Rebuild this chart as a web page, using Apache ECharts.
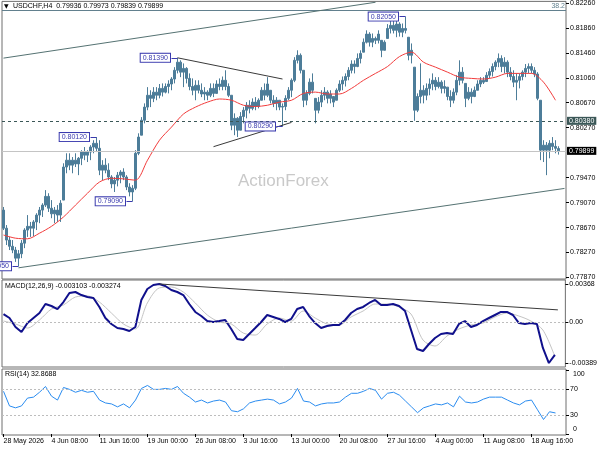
<!DOCTYPE html>
<html>
<head>
<meta charset="utf-8">
<script src="https://cdn.jsdelivr.net/npm/echarts@6/dist/echarts.min.js"></script>
<style>
  html, body { margin: 0; padding: 0; background: #fff; }
  #chart { width: 600px; height: 450px; }
</style>
</head>
<body>
<div id="chart"></div>
<script>
/**
 * USDCHF H4 — price bars with MA, MACD and RSI panes (MetaTrader style).
 */

// time axis: one slot per bar, labels every 16 slots
const slotCount = 188;
const labelStep = 16;
const xLabels = ['28 May 2026', '4 Jun 08:00', '11 Jun 16:00', '19 Jun 00:00', '26 Jun 08:00', '3 Jul 16:00',
  '13 Jul 00:00', '20 Jul 08:00', '27 Jul 16:00', '4 Aug 00:00', '11 Aug 08:00', '18 Aug 16:00'];

const barOpen = [
  0.7895,0.7866,0.7847,0.7837,0.7831,0.7818,0.7825,0.7842,0.7863,0.7869,
  0.7866,0.7876,0.7887,0.7895,0.7903,0.7917,0.7898,0.7889,0.7895,0.7887,
  0.7911,0.7964,0.7975,0.7967,0.7975,0.7969,0.7978,0.7988,0.7983,0.7988,
  0.7996,0.8002,0.7994,0.7959,0.7967,0.7959,0.7948,0.7937,0.7943,0.7951,
  0.7956,0.7948,0.7932,0.7924,0.7930,0.7986,0.8015,0.8039,0.8060,0.8079,
  0.8074,0.8084,0.8079,0.8090,0.8084,0.8093,0.8097,0.8105,0.8119,0.8132,
  0.8116,0.8122,0.8106,0.8093,0.8087,0.8095,0.8087,0.8081,0.8084,0.8079,
  0.8090,0.8082,0.8097,0.8093,0.8103,0.8093,0.8079,0.8031,0.8042,0.8023,
  0.8045,0.8055,0.8063,0.8058,0.8068,0.8061,0.8071,0.8087,0.8079,0.8087,
  0.8071,0.8066,0.8071,0.8060,0.8061,0.8074,0.8087,0.8103,0.8135,0.8143,
  0.8119,0.8071,0.8082,0.8100,0.8074,0.8055,0.8068,0.8079,0.8084,0.8074,
  0.8077,0.8071,0.8087,0.8097,0.8103,0.8109,0.8119,0.8129,0.8125,0.8138,
  0.8148,0.8164,0.8177,0.8164,0.8170,0.8167,0.8167,0.8151,0.8170,0.8186,
  0.8191,0.8183,0.8193,0.8180,0.8186,0.8172,0.8143,0.8124,0.8055,0.8077,
  0.8087,0.8079,0.8090,0.8097,0.8103,0.8093,0.8100,0.8090,0.8092,0.8077,
  0.8071,0.8084,0.8103,0.8116,0.8098,0.8074,0.8084,0.8077,0.8087,0.8097,
  0.8103,0.8101,0.8111,0.8117,0.8125,0.8132,0.8138,0.8125,0.8132,0.8116,
  0.8109,0.8100,0.8103,0.8109,0.8116,0.8122,0.8125,0.8119,0.8113,0.8071,
  0.7991,0.7999,0.7991,0.8002,0.7997,0.79936
];
const barHigh = [
  0.7900,0.7871,0.7852,0.7847,0.7836,0.7831,0.7847,0.7866,0.7887,0.7876,
  0.7879,0.7890,0.7900,0.7906,0.7927,0.7922,0.7911,0.7900,0.7903,0.7911,
  0.7970,0.7986,0.7986,0.7980,0.7986,0.7980,0.7991,0.7996,0.7991,0.7999,
  0.8007,0.8012,0.8007,0.7975,0.7978,0.7970,0.7951,0.7948,0.7956,0.7959,
  0.7962,0.7951,0.7938,0.7935,0.7991,0.8018,0.8044,0.8066,0.8092,0.8087,
  0.8092,0.8092,0.8097,0.8098,0.8098,0.8103,0.8108,0.8124,0.8139,0.8135,
  0.8130,0.8124,0.8114,0.8106,0.8103,0.8103,0.8098,0.8092,0.8087,0.8098,
  0.8098,0.8103,0.8106,0.8109,0.8119,0.8098,0.8079,0.8050,0.8044,0.8052,
  0.8060,0.8068,0.8071,0.8074,0.8076,0.8074,0.8092,0.8098,0.8108,0.8087,
  0.8079,0.8076,0.8071,0.8066,0.8079,0.8092,0.8106,0.8140,0.8151,0.8146,
  0.8119,0.8087,0.8106,0.8114,0.8074,0.8076,0.8087,0.8092,0.8087,0.8087,
  0.8077,0.8090,0.8103,0.8109,0.8114,0.8124,0.8135,0.8135,0.8146,0.8151,
  0.8170,0.8183,0.8180,0.8178,0.8173,0.8183,0.8167,0.8167,0.8193,0.8199,
  0.8199,0.8199,0.8196,0.8194,0.8205,0.8172,0.8162,0.8124,0.8082,0.8130,
  0.8095,0.8098,0.8106,0.8114,0.8108,0.8108,0.8103,0.8103,0.8092,0.8087,
  0.8090,0.8111,0.8135,0.8124,0.8098,0.8092,0.8090,0.8093,0.8103,0.8108,
  0.8108,0.8116,0.8122,0.8130,0.8135,0.8146,0.8143,0.8140,0.8135,0.8124,
  0.8119,0.8114,0.8114,0.8119,0.8129,0.8130,0.8130,0.8124,0.8116,0.8071,
  0.8007,0.8004,0.8007,0.8012,0.8007,0.79973
];
const barLow = [
  0.7863,0.7839,0.7831,0.7826,0.7812,0.7805,0.7818,0.7834,0.7852,0.7852,
  0.7853,0.7863,0.7874,0.7884,0.7900,0.7892,0.7882,0.7874,0.7876,0.7876,
  0.7911,0.7954,0.7959,0.7954,0.7964,0.7951,0.7967,0.7975,0.7972,0.7975,
  0.7986,0.7988,0.7951,0.7943,0.7954,0.7943,0.7930,0.7924,0.7933,0.7938,
  0.7943,0.7927,0.7917,0.7909,0.7927,0.7983,0.8015,0.8034,0.8055,0.8060,
  0.8068,0.8071,0.8074,0.8077,0.8082,0.8082,0.8087,0.8098,0.8114,0.8108,
  0.8092,0.8098,0.8087,0.8079,0.8071,0.8082,0.8076,0.8071,0.8071,0.8076,
  0.8076,0.8082,0.8087,0.8087,0.8087,0.8076,0.8023,0.8015,0.8012,0.8023,
  0.8034,0.8042,0.8050,0.8055,0.8055,0.8058,0.8071,0.8071,0.8076,0.8066,
  0.8060,0.8055,0.8055,0.8029,0.8055,0.8071,0.8076,0.8100,0.8130,0.8114,
  0.8060,0.8063,0.8079,0.8082,0.8034,0.8050,0.8060,0.8071,0.8066,0.8066,
  0.8060,0.8071,0.8084,0.8087,0.8093,0.8103,0.8114,0.8114,0.8124,0.8130,
  0.8148,0.8162,0.8157,0.8156,0.8161,0.8162,0.8140,0.8151,0.8170,0.8178,
  0.8178,0.8172,0.8173,0.8172,0.8178,0.8135,0.8130,0.8038,0.8052,0.8066,
  0.8066,0.8071,0.8079,0.8087,0.8087,0.8090,0.8082,0.8082,0.8071,0.8060,
  0.8066,0.8079,0.8095,0.8098,0.8060,0.8071,0.8066,0.8076,0.8087,0.8092,
  0.8097,0.8101,0.8106,0.8109,0.8119,0.8124,0.8116,0.8114,0.8108,0.8103,
  0.8092,0.8071,0.8090,0.8103,0.8108,0.8114,0.8114,0.8108,0.8071,0.7975,
  0.7972,0.7951,0.7978,0.7991,0.7986,0.79839
];
const barClose = [
  0.7866,0.7847,0.7837,0.7831,0.7818,0.7825,0.7842,0.7863,0.7869,0.7866,
  0.7876,0.7887,0.7895,0.7903,0.7917,0.7898,0.7889,0.7895,0.7887,0.7906,
  0.7964,0.7975,0.7967,0.7975,0.7969,0.7978,0.7988,0.7983,0.7988,0.7996,
  0.8002,0.7994,0.7959,0.7967,0.7959,0.7948,0.7937,0.7943,0.7951,0.7956,
  0.7948,0.7932,0.7924,0.7930,0.7986,0.8012,0.8039,0.8060,0.8079,0.8074,
  0.8084,0.8079,0.8090,0.8084,0.8093,0.8097,0.8105,0.8119,0.8132,0.8116,
  0.8122,0.8106,0.8093,0.8087,0.8095,0.8087,0.8081,0.8084,0.8079,0.8090,
  0.8082,0.8097,0.8093,0.8103,0.8093,0.8079,0.8031,0.8042,0.8023,0.8045,
  0.8055,0.8063,0.8058,0.8068,0.8061,0.8071,0.8087,0.8079,0.8097,0.8071,
  0.8066,0.8071,0.8060,0.8061,0.8074,0.8087,0.8103,0.8135,0.8143,0.8119,
  0.8071,0.8082,0.8100,0.8087,0.8055,0.8068,0.8079,0.8084,0.8074,0.8081,
  0.8068,0.8087,0.8097,0.8103,0.8109,0.8119,0.8129,0.8125,0.8138,0.8146,
  0.8164,0.8177,0.8164,0.8170,0.8167,0.8177,0.8151,0.8164,0.8186,0.8191,
  0.8183,0.8193,0.8180,0.8186,0.8183,0.8143,0.8151,0.8055,0.8077,0.8087,
  0.8079,0.8090,0.8097,0.8103,0.8093,0.8100,0.8090,0.8093,0.8077,0.8071,
  0.8084,0.8103,0.8116,0.8103,0.8074,0.8084,0.8077,0.8087,0.8097,0.8103,
  0.8100,0.8111,0.8117,0.8125,0.8132,0.8138,0.8125,0.8132,0.8116,0.8109,
  0.8100,0.8103,0.8109,0.8116,0.8122,0.8125,0.8119,0.8113,0.8074,0.7991,
  0.7999,0.7991,0.8002,0.7997,0.7994,0.79899
];

// moving average read every 4 bars
const maStep = 4;
const maValues = [
  0.7855,0.7850,0.7849,0.7858,0.7869,0.7884,0.7903,0.7922,0.7940,0.7946,
  0.7945,0.7943,0.7975,0.8007,0.8028,0.8049,0.8060,0.8068,0.8073,0.8071,
  0.8063,0.8061,0.8063,0.8068,0.8071,0.8082,0.8084,0.8081,0.8081,0.8090,
  0.8103,0.8114,0.8125,0.8141,0.8148,0.8132,0.8124,0.8116,0.8108,0.8106,
  0.8105,0.8108,0.8114,0.8114,0.8114,0.8100,0.8071
];

// MACD main read every 2 bars, signal every 4 bars
const macdStep = 2;
const macdMain = [
  0.00080,0.00042,-0.00044,-0.00092,-0.00006,0.00042,0.00090,0.00176,0.00157,0.00128,
  0.00195,0.00282,0.00291,0.00262,0.00243,0.00234,0.00148,0.00042,-0.00015,-0.00054,
  -0.00063,-0.00082,-0.00044,0.00215,0.00320,0.00358,0.00368,0.00349,0.00310,0.00291,
  0.00262,0.00176,0.00100,0.00061,0.00013,0.00004,0.00013,0.00023,-0.00063,-0.00159,
  -0.00169,-0.00111,-0.00054,0.00004,0.00071,0.00052,0.00033,0.00004,0.00033,0.00128,
  0.00148,0.00061,-0.00006,-0.00054,-0.00034,-0.00025,-0.00025,0.00023,0.00090,0.00128,
  0.00148,0.00186,0.00215,0.00167,0.00167,0.00176,0.00157,0.00109,-0.00073,-0.00255,
  -0.00274,-0.00207,-0.00149,-0.00111,-0.00102,-0.00111,-0.00015,0.00013,-0.00044,-0.00025,
  0.00013,0.00042,0.00071,0.00100,0.00100,0.00071,-0.00006,-0.00015,-0.00006,-0.00015,
  -0.00245,-0.00389,-0.003103
];
const signalStep = 4;
const macdSignal = [
  0.00013,-0.00015,-0.00054,0.00023,0.00128,0.00167,0.00243,0.00253,0.00195,0.00090,
  -0.00015,-0.00063,0.00186,0.00330,0.00339,0.00291,0.00186,0.00071,0.00004,-0.00015,
  -0.00102,-0.00121,-0.00015,0.00042,0.00013,0.00109,0.00042,-0.00015,-0.00025,0.00052,
  0.00109,0.00176,0.00176,0.00148,0.00080,-0.00169,-0.00226,-0.00130,-0.00063,-0.00025,
  -0.00006,0.00052,0.00090,0.00061,0.00013,-0.00073,-0.003274
];

// RSI(14) read every 2 bars
const rsiStep = 2;
const rsiValues = [
  66.7,43.9,40.9,43.9,56.1,57.6,65.2,74.2,59.1,53.0,
  72.7,69.7,65.2,68.2,65.2,66.7,53.0,48.5,47.0,42.4,
  47.0,40.9,53.0,71.2,75.8,69.7,69.7,71.2,69.7,74.2,
  63.6,57.6,50.0,53.0,48.5,51.5,53.0,50.0,36.4,34.8,
  39.4,48.5,51.5,53.0,54.5,53.0,47.0,50.0,56.1,71.2,
  51.5,50.0,43.9,47.0,48.5,48.5,50.0,57.6,63.6,63.6,
  66.7,71.2,68.2,54.5,63.6,65.2,60.6,51.5,42.4,33.3,
  40.9,43.9,47.0,45.5,48.5,42.4,59.1,50.0,48.5,50.0,
  54.5,57.6,57.6,57.6,53.0,48.5,45.5,51.5,53.0,37.9,
  22.7,34.8,32.8688
];

// axis ticks
const priceTicks = [0.8226, 0.8186, 0.8146, 0.8106, 0.8067, 0.8027, 0.7947, 0.7907, 0.7867, 0.7827, 0.7787];
const macdTicks = [0.00368, 0, -0.00389];
const rsiTicks = [100, 70, 30, 0];
const rsiLevels = [70, 30];

// drawn objects on the price pane
const levelPrice = 0.8038;
const fibPrice = 0.8215;
const priceNotes = [
  { idx: 5, side: 'low' }, { idx: 31, side: 'high' }, { idx: 43, side: 'low' },
  { idx: 58, side: 'high' }, { idx: 93, side: 'low' }, { idx: 134, side: 'high' }
];
const channelLines = [
  [[0, 0.81385], [124, 0.8228]],
  [[5, 0.78025], [187, 0.79297]]
];
const triangleLines = [
  [[58, 0.8139], [93, 0.8105]],
  [[70, 0.79966], [96, 0.80355]]
];
const macdTrend = [[52, 0.00368], [185, 0.00120]];

const colors = {
  bar: '#4d7d99',
  ma: '#f23c3c',
  macd: '#10108c',
  signal: '#c4c4c4',
  rsi: '#2a8cf0',
  channel: '#557272',
  trend: '#3a3a3a',
  level: '#3b5757',
  note: '#3a3aae',
  fib: '#62808e',
  border: '#6e6e6e',
  dots: '#bdbdbd'
};
const font = 'Liberation Sans';
const axisText = { color: '#000', fontSize: 7, fontFamily: font };
const fmt5 = v => v.toFixed(5);

const slots = Array.from({ length: slotCount }, (_, i) => i);
const bars = barOpen.map((o, i) => [o, barClose[i], barLow[i], barHigh[i]]);
const toPairs = (vals, step) => vals.map((v, j) => [j * step, v]);
const segment = (pair, color) => [
  { coord: pair[0], lineStyle: { color, width: 1, type: 'solid' } },
  { coord: pair[1] }
];

const last = bars.length - 1;
const headerText = 'USDCHF,H4  ' + [barOpen[last], barHigh[last], barLow[last], barClose[last]].map(fmt5).join(' ');

function xAxisFor(gridIndex, showLabels) {
  const every = i => i % labelStep === 0;
  return {
    type: 'category', gridIndex, data: slots, boundaryGap: true,
    axisLine: { show: false },
    axisTick: { show: showLabels, interval: every, alignWithLabel: true, length: 3, lineStyle: { color: '#000' } },
    axisLabel: {
      show: showLabels, interval: every, align: 'left', margin: 3, ...axisText,
      formatter: (v, i) => xLabels[i / labelStep] || ''
    },
    splitLine: { show: false }
  };
}

function yAxisFor(gridIndex, min, max, ticks, labelValues, formatter) {
  return {
    type: 'value', gridIndex, position: 'right', min, max,
    axisLine: { show: false },
    splitLine: { show: false },
    axisTick: { show: true, customValues: ticks, length: 3, lineStyle: { color: '#000' } },
    axisLabel: { customValues: labelValues, formatter, margin: 4, ...axisText }
  };
}

const gridBase = { left: 2, right: 34, show: true, borderColor: colors.border, borderWidth: 1 };

const noteLabel = {
  show: true, position: 'left', distance: 7,
  color: colors.note, fontSize: 7, fontFamily: font,
  backgroundColor: '#fff', borderColor: colors.note, borderWidth: 1, padding: [1, 2, 0, 2]
};

const sideLabel = (text, bg) => ({
  show: true, position: 'end', distance: 1, formatter: text,
  color: '#fff', backgroundColor: bg, padding: [1, 2, 0, 2], fontSize: 7, fontFamily: font
});

const option = {
  animation: false,
  backgroundColor: '#fff',
  textStyle: { fontFamily: font },
  grid: [
    { ...gridBase, top: 1, height: 278 },
    { ...gridBase, top: 280, height: 87 },
    { ...gridBase, top: 369, height: 66 }
  ],
  xAxis: [xAxisFor(0, false), xAxisFor(1, false), xAxisFor(2, true)],
  yAxis: [
    yAxisFor(0, 0.77846, 0.82294, priceTicks, priceTicks, fmt5),
    yAxisFor(1, -0.00427, 0.00406, macdTicks, macdTicks, v => (v === 0 ? '0.00' : fmt5(v))),
    // the 100 / 0 labels sit inside the pane, drawn below as text
    yAxisFor(2, -1.5, 101.5, rsiTicks, rsiLevels, v => String(v))
  ],
  series: [
    {
      name: 'USDCHF', type: 'candlestick', xAxisIndex: 0, yAxisIndex: 0,
      data: bars, barWidth: 2,
      itemStyle: {
        color: colors.bar, color0: colors.bar,
        borderColor: colors.bar, borderColor0: colors.bar, borderWidth: 1
      },
      markLine: {
        silent: true, symbol: ['none', 'none'], precision: 5,
        label: { show: false },
        data: [
          {
            yAxis: fibPrice, lineStyle: { color: colors.fib, width: 1, type: 'solid' },
            label: { show: true, formatter: '38.2', position: 'insideEndTop', distance: 1, color: colors.fib, fontSize: 7, fontFamily: font }
          },
          {
            yAxis: levelPrice, lineStyle: { color: colors.level, width: 1, type: [3, 3] },
            label: sideLabel(fmt5(levelPrice), colors.level)
          },
          {
            yAxis: barClose[last], lineStyle: { color: '#c4c4c4', width: 1, type: 'solid' },
            label: sideLabel(fmt5(barClose[last]), '#000')
          },
          ...channelLines.map(p => segment(p, colors.channel)),
          ...triangleLines.map(p => segment(p, colors.trend)),
          ...priceNotes.map(n => {
            const v = n.side === 'high' ? barHigh[n.idx] : barLow[n.idx];
            return segment([[n.idx - 2, v], [n.idx, v]], colors.note);
          })
        ]
      },
      markPoint: {
        symbol: 'circle', symbolSize: 1,
        itemStyle: { color: 'rgba(0,0,0,0)' },
        label: noteLabel,
        data: priceNotes.map(n => {
          const v = n.side === 'high' ? barHigh[n.idx] : barLow[n.idx];
          return { coord: [n.idx, v], value: v, label: { formatter: fmt5(v) } };
        })
      }
    },
    {
      name: 'MA', type: 'line', xAxisIndex: 0, yAxisIndex: 0,
      data: toPairs(maValues, maStep), symbol: 'none', smooth: 0.3,
      lineStyle: { color: colors.ma, width: 1 }
    },
    {
      name: 'Signal', type: 'line', xAxisIndex: 1, yAxisIndex: 1,
      data: toPairs(macdSignal, signalStep), symbol: 'none', smooth: 0.3,
      lineStyle: { color: colors.signal, width: 1 },
      markLine: {
        silent: true, symbol: ['none', 'none'], precision: 6, label: { show: false },
        data: [
          { yAxis: 0, lineStyle: { color: colors.dots, width: 1, type: [2, 2] } },
          segment(macdTrend, colors.trend)
        ]
      }
    },
    {
      name: 'MACD', type: 'line', xAxisIndex: 1, yAxisIndex: 1,
      data: toPairs(macdMain, macdStep), symbol: 'none',
      lineStyle: { color: colors.macd, width: 2 }
    },
    {
      name: 'RSI', type: 'line', xAxisIndex: 2, yAxisIndex: 2,
      data: toPairs(rsiValues, rsiStep), symbol: 'none',
      lineStyle: { color: colors.rsi, width: 1 },
      markLine: {
        silent: true, symbol: ['none', 'none'], label: { show: false },
        data: rsiLevels.map(v => ({ yAxis: v, lineStyle: { color: colors.dots, width: 1, type: [2, 2] } }))
      }
    }
  ],
  graphic: [
    { type: 'text', left: 4, top: 3, style: { text: '\u25BC', fill: '#000', font: '6px DejaVu Sans' } },
    { type: 'text', left: 13, top: 3, style: { text: headerText, fill: '#000', font: '7px ' + font } },
    {
      type: 'text', left: 5, top: 283,
      style: { text: 'MACD(12,26,9) ' + macdMain[macdMain.length - 1].toFixed(6) + ' ' + macdSignal[macdSignal.length - 1].toFixed(6), fill: '#000', font: '7px ' + font }
    },
    {
      type: 'text', left: 5, top: 371,
      style: { text: 'RSI(14) ' + rsiValues[rsiValues.length - 1].toFixed(4), fill: '#000', font: '7px ' + font }
    },
    { type: 'text', left: 573, top: 371, style: { text: String(rsiTicks[0]), fill: '#000', font: '7px ' + font } },
    { type: 'text', left: 573, top: 426, style: { text: String(rsiTicks[3]), fill: '#000', font: '7px ' + font } },
    { type: 'text', left: 238, top: 173, z: -1, style: { text: 'ActionForex', fill: '#c9c9c9', font: '17px ' + font } }
  ]
};

const chart = echarts.init(document.getElementById('chart'));
chart.setOption(option);
window.addEventListener('resize', () => chart.resize());
</script>
</body>
</html>
